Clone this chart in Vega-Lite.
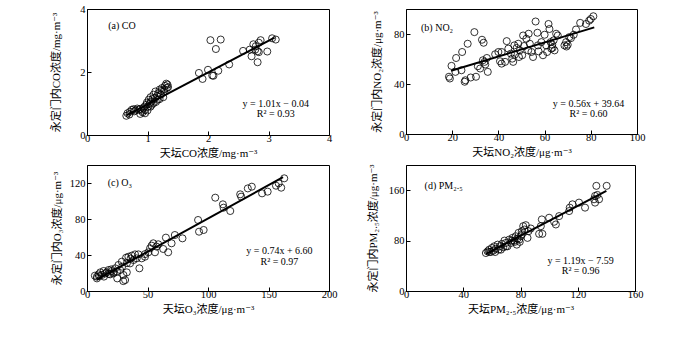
{
"$schema": "https://vega.github.io/schema/vega-lite/v6.json",
"padding": {"left": 50, "top": 3, "right": 0, "bottom": 0},
"datasets": {
"co": [{"x":0.65,"y":0.61},{"x":0.67,"y":0.69},{"x":0.71,"y":0.74},{"x":0.74,"y":0.80},{"x":0.77,"y":0.82},{"x":0.80,"y":0.78},{"x":0.83,"y":0.84},{"x":0.85,"y":0.80},{"x":0.88,"y":0.83},{"x":0.91,"y":0.77},{"x":0.93,"y":0.85},{"x":0.95,"y":0.90},{"x":0.96,"y":0.80},{"x":0.98,"y":0.96},{"x":0.99,"y":1.03},{"x":1.01,"y":0.90},{"x":1.02,"y":1.12},{"x":1.04,"y":1.01},{"x":1.05,"y":1.20},{"x":1.06,"y":1.06},{"x":1.08,"y":1.14},{"x":1.10,"y":1.28},{"x":1.12,"y":1.17},{"x":1.13,"y":1.38},{"x":1.16,"y":1.24},{"x":1.18,"y":1.33},{"x":1.20,"y":1.44},{"x":1.22,"y":1.28},{"x":1.24,"y":1.49},{"x":1.27,"y":1.38},{"x":1.29,"y":1.56},{"x":1.31,"y":1.63},{"x":1.32,"y":1.49},{"x":1.34,"y":1.52},{"x":1.26,"y":1.20},{"x":1.17,"y":1.12},{"x":1.07,"y":0.96},{"x":0.96,"y":0.69},{"x":0.88,"y":0.67},{"x":1.10,"y":1.01},{"x":1.20,"y":1.14},{"x":1.05,"y":0.90},{"x":0.70,"y":0.65},{"x":0.78,"y":0.75},{"x":0.92,"y":0.72},{"x":1.00,"y":0.78},{"x":1.14,"y":1.05},{"x":1.28,"y":1.45},{"x":1.33,"y":1.60},{"x":1.23,"y":1.40},{"x":2.04,"y":3.01},{"x":2.21,"y":3.03},{"x":2.13,"y":2.73},{"x":1.85,"y":1.97},{"x":1.91,"y":1.78},{"x":2.00,"y":2.07},{"x":2.07,"y":1.89},{"x":2.09,"y":1.88},{"x":2.17,"y":2.04},{"x":2.35,"y":2.24},{"x":2.58,"y":2.67},{"x":2.69,"y":2.71},{"x":2.72,"y":2.50},{"x":2.78,"y":2.71},{"x":2.79,"y":2.82},{"x":2.82,"y":2.66},{"x":2.84,"y":2.93},{"x":2.82,"y":2.31},{"x":2.87,"y":3.01},{"x":2.98,"y":2.65},{"x":3.06,"y":3.07},{"x":3.12,"y":3.03},{"x":2.75,"y":2.88},{"x":2.84,"y":2.63}],
"no2": [{"x":18.6,"y":45.8},{"x":19,"y":44.4},{"x":19.7,"y":54.5},{"x":21.4,"y":49.7},{"x":21.7,"y":60.8},{"x":24,"y":51},{"x":24.3,"y":65.6},{"x":25.7,"y":43},{"x":25.4,"y":41.8},{"x":26.7,"y":72.2},{"x":28,"y":45.2},{"x":29.6,"y":81.5},{"x":30.3,"y":45.8},{"x":31.1,"y":54.2},{"x":32.1,"y":52.4},{"x":32.9,"y":75.4},{"x":33.6,"y":73},{"x":33.3,"y":59},{"x":34,"y":57.7},{"x":34.3,"y":55.6},{"x":35.4,"y":49.7},{"x":35,"y":60.8},{"x":38.6,"y":63.8},{"x":40,"y":65.6},{"x":40.7,"y":58.2},{"x":41.4,"y":56.3},{"x":42.9,"y":57.7},{"x":43.6,"y":74.3},{"x":44.3,"y":68.3},{"x":45.4,"y":64.3},{"x":46,"y":60.3},{"x":46.4,"y":57.7},{"x":46.9,"y":70.9},{"x":47.1,"y":63.5},{"x":47.9,"y":68.8},{"x":48.6,"y":72.2},{"x":48.9,"y":61.6},{"x":49.3,"y":66.9},{"x":50.3,"y":63},{"x":50.7,"y":78.8},{"x":51.1,"y":70.4},{"x":52.1,"y":76.2},{"x":52.9,"y":66.9},{"x":53.6,"y":72.2},{"x":54.3,"y":65.6},{"x":55,"y":61.6},{"x":56.1,"y":90},{"x":56.9,"y":81},{"x":57.4,"y":66.1},{"x":58.6,"y":73.5},{"x":59.3,"y":63},{"x":60,"y":79.4},{"x":60.7,"y":70.9},{"x":61.1,"y":65.6},{"x":61.7,"y":88},{"x":62.1,"y":84},{"x":62.6,"y":73.5},{"x":62.9,"y":68.3},{"x":63.3,"y":71.4},{"x":63.9,"y":74.9},{"x":64.3,"y":66.9},{"x":65,"y":80.2},{"x":65.7,"y":78.8},{"x":68.6,"y":70.9},{"x":69.3,"y":73.5},{"x":70,"y":71.4},{"x":70.7,"y":77.5},{"x":71.4,"y":76.7},{"x":72.6,"y":79.4},{"x":73.6,"y":83.6},{"x":75.4,"y":88.9},{"x":77.9,"y":88},{"x":79.3,"y":90.7},{"x":80,"y":92},{"x":81.1,"y":94.2},{"x":57.1,"y":70.9},{"x":53.1,"y":80.2},{"x":41.4,"y":65.6},{"x":69.5,"y":70},{"x":63.5,"y":69}],
"o3": [{"x":8.2,"y":15.9},{"x":9.6,"y":18.5},{"x":11,"y":20.7},{"x":12.3,"y":17.8},{"x":13.7,"y":22.2},{"x":15.1,"y":19.6},{"x":16.4,"y":20.7},{"x":17.8,"y":23.3},{"x":19.2,"y":18.5},{"x":20.5,"y":22.2},{"x":21.9,"y":19.6},{"x":23.3,"y":25.2},{"x":24.7,"y":21.5},{"x":26,"y":28.9},{"x":27.4,"y":23.3},{"x":28.8,"y":32.6},{"x":30.1,"y":17.8},{"x":31.5,"y":12.2},{"x":32.9,"y":20.7},{"x":32.3,"y":37},{"x":34.2,"y":38.1},{"x":35.6,"y":30.7},{"x":37,"y":39.3},{"x":38.4,"y":34.4},{"x":39.7,"y":40.7},{"x":41.1,"y":36.3},{"x":42.5,"y":40.7},{"x":43.3,"y":25.2},{"x":45.2,"y":36.3},{"x":47.9,"y":38.1},{"x":50.7,"y":43},{"x":52.1,"y":47.4},{"x":53.4,"y":50.4},{"x":54.8,"y":53},{"x":56.2,"y":43},{"x":57.5,"y":49.3},{"x":58.9,"y":51.9},{"x":63,"y":46.7},{"x":65.2,"y":59.3},{"x":67.1,"y":43},{"x":69.9,"y":53},{"x":72.6,"y":62.2},{"x":78.9,"y":58.5},{"x":91.8,"y":78.9},{"x":92.6,"y":65.9},{"x":96.4,"y":67.8},{"x":106,"y":103.7},{"x":112.3,"y":96.3},{"x":112.9,"y":92.6},{"x":118.4,"y":88.9},{"x":126.6,"y":107.4},{"x":127.4,"y":104.8},{"x":132.9,"y":114},{"x":136.2,"y":115.9},{"x":144.7,"y":108.5},{"x":149.3,"y":110.4},{"x":156.2,"y":117},{"x":158.4,"y":119.6},{"x":160.5,"y":114.8},{"x":163,"y":125.2},{"x":8.2,"y":14},{"x":6.5,"y":17},{"x":10,"y":16.5},{"x":14,"y":16},{"x":18,"y":19},{"x":22,"y":21},{"x":25,"y":14},{"x":29,"y":27},{"x":33,"y":31},{"x":36,"y":36},{"x":30,"y":11},{"x":20,"y":24},{"x":48,"y":41}],
"pm": [{"x":55.8,"y":60.3},{"x":57,"y":62.9},{"x":58.1,"y":65.6},{"x":59.3,"y":61.9},{"x":60,"y":68.3},{"x":60.9,"y":64},{"x":61.6,"y":70.9},{"x":62.8,"y":67.2},{"x":64,"y":73.6},{"x":64.7,"y":65.6},{"x":65.6,"y":70.9},{"x":67,"y":74.7},{"x":67.9,"y":69.3},{"x":68.8,"y":80},{"x":69.8,"y":76.3},{"x":70.9,"y":70.9},{"x":72.1,"y":81.6},{"x":73.3,"y":76.3},{"x":74.4,"y":84.3},{"x":75.6,"y":80},{"x":76.7,"y":86.9},{"x":77.4,"y":73.6},{"x":78.6,"y":92.3},{"x":79.1,"y":81.6},{"x":80.2,"y":86.9},{"x":80.9,"y":94.9},{"x":81.9,"y":102.9},{"x":82.8,"y":97.6},{"x":83.7,"y":104.5},{"x":84.9,"y":84.3},{"x":85.6,"y":94.9},{"x":87.2,"y":99.2},{"x":93,"y":90.7},{"x":94.2,"y":102.9},{"x":94.9,"y":113.6},{"x":95.3,"y":90.7},{"x":100,"y":116.3},{"x":103.5,"y":109.9},{"x":104.7,"y":105.6},{"x":107,"y":118.9},{"x":114,"y":126.9},{"x":114.4,"y":132.3},{"x":116.3,"y":137.6},{"x":120.9,"y":140.3},{"x":125.1,"y":132.3},{"x":131.4,"y":145.6},{"x":132.1,"y":150.9},{"x":133,"y":166.9},{"x":133.7,"y":152.5},{"x":134.9,"y":145.6},{"x":140.2,"y":166.9},{"x":132.1,"y":140.3},{"x":58.1,"y":61.9},{"x":62.3,"y":61.9},{"x":66.3,"y":65.6},{"x":69.8,"y":70.9},{"x":74,"y":80},{"x":77.9,"y":83.2},{"x":79.5,"y":78},{"x":81,"y":90},{"x":76,"y":78}],
"co_fit": [{"x":0.65,"y":0.62},{"x":3.1,"y":3.09}],
"no2_fit": [{"x":19.5,"y":50.56},{"x":81.5,"y":85.28}],
"o3_fit": [{"x":8,"y":12.52},{"x":162,"y":126.48}],
"pm_fit": [{"x":56,"y":59.05},{"x":140,"y":159.01}]
},
"concat": [
{
"width": 242, "height": 126,
"layer": [
{"data": {"name": "co"},
 "mark": {"type": "point", "shape": "circle", "filled": false, "color": "black", "size": 50, "strokeWidth": 0.8, "opacity": 1},
 "encoding": {
  "x": {"field": "x", "type": "quantitative", "scale": {"domain": [0, 4], "nice": false}, "axis": {"values": [0,1,2,3,4], "format": "d", "title": "天坛CO浓度/mg·m⁻³"}},
  "y": {"field": "y", "type": "quantitative", "scale": {"domain": [0, 4], "nice": false}, "axis": {"values": [0,1,2,3,4], "format": "d", "title": "永定门内CO浓度/mg·m⁻³", "titlePadding": 18}}}},
{"data": {"name": "co_fit"},
 "mark": {"type": "line", "color": "black", "strokeWidth": 2},
 "encoding": {"x": {"field": "x", "type": "quantitative"}, "y": {"field": "y", "type": "quantitative"}}},
{"data": {"values": [{"t": "(a) CO"}]}, "mark": {"type": "text", "align": "left", "baseline": "middle"},
 "encoding": {"x": {"datum": 0.35}, "y": {"datum": 3.46}, "text": {"field": "t"}}},
{"data": {"values": [{"t": "y = 1.01x − 0.04"}]}, "mark": {"type": "text", "align": "center", "baseline": "middle"},
 "encoding": {"x": {"datum": 3.12}, "y": {"datum": 1.0}, "text": {"field": "t"}}},
{"data": {"values": [{"t": "R² = 0.93"}]}, "mark": {"type": "text", "align": "center", "baseline": "middle"},
 "encoding": {"x": {"datum": 3.12}, "y": {"datum": 0.68}, "text": {"field": "t"}}}
]
},
{
"width": 231, "height": 125,
"layer": [
{"data": {"name": "no2"},
 "mark": {"type": "point", "shape": "circle", "filled": false, "color": "black", "size": 50, "strokeWidth": 0.8, "opacity": 1},
 "encoding": {
  "x": {"field": "x", "type": "quantitative", "scale": {"domain": [0, 100], "nice": false}, "axis": {"values": [0,20,40,60,80,100], "title": "天坛NO₂浓度/μg·m⁻³"}},
  "y": {"field": "y", "type": "quantitative", "scale": {"domain": [0, 100], "nice": false}, "axis": {"values": [0,20,40,60,80,100], "title": "永定门内NO₂浓度/μg·m⁻³", "titlePadding": 11}}}},
{"data": {"name": "no2_fit"},
 "mark": {"type": "line", "color": "black", "strokeWidth": 2},
 "encoding": {"x": {"field": "x", "type": "quantitative"}, "y": {"field": "y", "type": "quantitative"}}},
{"data": {"values": [{"t": "(b) NO₂"}]}, "mark": {"type": "text", "align": "left", "baseline": "middle"},
 "encoding": {"x": {"datum": 6.5}, "y": {"datum": 85}, "text": {"field": "t"}}},
{"data": {"values": [{"t": "y = 0.56x + 39.64"}]}, "mark": {"type": "text", "align": "center", "baseline": "middle"},
 "encoding": {"x": {"datum": 79}, "y": {"datum": 24.2}, "text": {"field": "t"}}},
{"data": {"values": [{"t": "R² = 0.60"}]}, "mark": {"type": "text", "align": "center", "baseline": "middle"},
 "encoding": {"x": {"datum": 79}, "y": {"datum": 15.7}, "text": {"field": "t"}}}
]
},
{
"width": 242, "height": 126,
"layer": [
{"data": {"name": "o3"},
 "mark": {"type": "point", "shape": "circle", "filled": false, "color": "black", "size": 50, "strokeWidth": 0.8, "opacity": 1},
 "encoding": {
  "x": {"field": "x", "type": "quantitative", "scale": {"domain": [0, 200], "nice": false}, "axis": {"values": [0,50,100,150,200], "title": "天坛O₃浓度/μg·m⁻³"}},
  "y": {"field": "y", "type": "quantitative", "scale": {"domain": [0, 140], "nice": false}, "axis": {"values": [0,20,40,60,80,100,120,140], "title": "永定门内O₃浓度/μg·m⁻³", "titlePadding": 7}}}},
{"data": {"name": "o3_fit"},
 "mark": {"type": "line", "color": "black", "strokeWidth": 2},
 "encoding": {"x": {"field": "x", "type": "quantitative"}, "y": {"field": "y", "type": "quantitative"}}},
{"data": {"values": [{"t": "(c) O₃"}]}, "mark": {"type": "text", "align": "left", "baseline": "middle"},
 "encoding": {"x": {"datum": 17.1}, "y": {"datum": 120}, "text": {"field": "t"}}},
{"data": {"values": [{"t": "y = 0.74x + 6.60"}]}, "mark": {"type": "text", "align": "center", "baseline": "middle"},
 "encoding": {"x": {"datum": 159}, "y": {"datum": 44}, "text": {"field": "t"}}},
{"data": {"values": [{"t": "R² = 0.97"}]}, "mark": {"type": "text", "align": "center", "baseline": "middle"},
 "encoding": {"x": {"datum": 159}, "y": {"datum": 32.3}, "text": {"field": "t"}}}
]
},
{
"width": 229, "height": 126,
"layer": [
{"data": {"name": "pm"},
 "mark": {"type": "point", "shape": "circle", "filled": false, "color": "black", "size": 50, "strokeWidth": 0.8, "opacity": 1},
 "encoding": {
  "x": {"field": "x", "type": "quantitative", "scale": {"domain": [0, 160], "nice": false}, "axis": {"values": [0,20,40,60,80,100,120,140,160], "title": "天坛PM₂.₅浓度/μg·m⁻³"}},
  "y": {"field": "y", "type": "quantitative", "scale": {"domain": [0, 200], "nice": false}, "axis": {"values": [0,40,80,120,160,200], "title": "永定门内PM₂.₅浓度/μg·m⁻³", "titlePadding": 10}}}},
{"data": {"name": "pm_fit"},
 "mark": {"type": "line", "color": "black", "strokeWidth": 2},
 "encoding": {"x": {"field": "x", "type": "quantitative"}, "y": {"field": "y", "type": "quantitative"}}},
{"data": {"values": [{"t": "(d) PM₂.₅"}]}, "mark": {"type": "text", "align": "left", "baseline": "middle"},
 "encoding": {"x": {"datum": 13}, "y": {"datum": 166}, "text": {"field": "t"}}},
{"data": {"values": [{"t": "y = 1.19x − 7.59"}]}, "mark": {"type": "text", "align": "center", "baseline": "middle"},
 "encoding": {"x": {"datum": 122}, "y": {"datum": 48}, "text": {"field": "t"}}},
{"data": {"values": [{"t": "R² = 0.96"}]}, "mark": {"type": "text", "align": "center", "baseline": "middle"},
 "encoding": {"x": {"datum": 122}, "y": {"datum": 31}, "text": {"field": "t"}}}
]
}
],
"columns": 2,
"align": "each",
"spacing": {"row": 4, "column": 28},
"config": {
 "font": "Liberation Serif, DejaVu Serif, Noto Sans CJK SC",
 "view": {"stroke": "black", "strokeWidth": 1},
 "axis": {"grid": false, "domainColor": "black", "tickColor": "black", "labelColor": "black", "titleColor": "black",
  "labelFontSize": 10.5, "titleFontSize": 11, "titleFontWeight": "normal", "tickSize": -4, "labelOverlap": false, "labelFlush": false, "labelBound": false,
  "labelFont": "Liberation Serif, DejaVu Serif, Noto Sans CJK SC", "titleFont": "Liberation Serif, DejaVu Serif, Noto Sans CJK SC"},
 "axisX": {"labelPadding": 2, "titlePadding": 4},
 "axisY": {"labelPadding": 6},
 "text": {"font": "Liberation Serif, DejaVu Serif, Noto Sans CJK SC", "fontSize": 10, "color": "black"}
}
}
